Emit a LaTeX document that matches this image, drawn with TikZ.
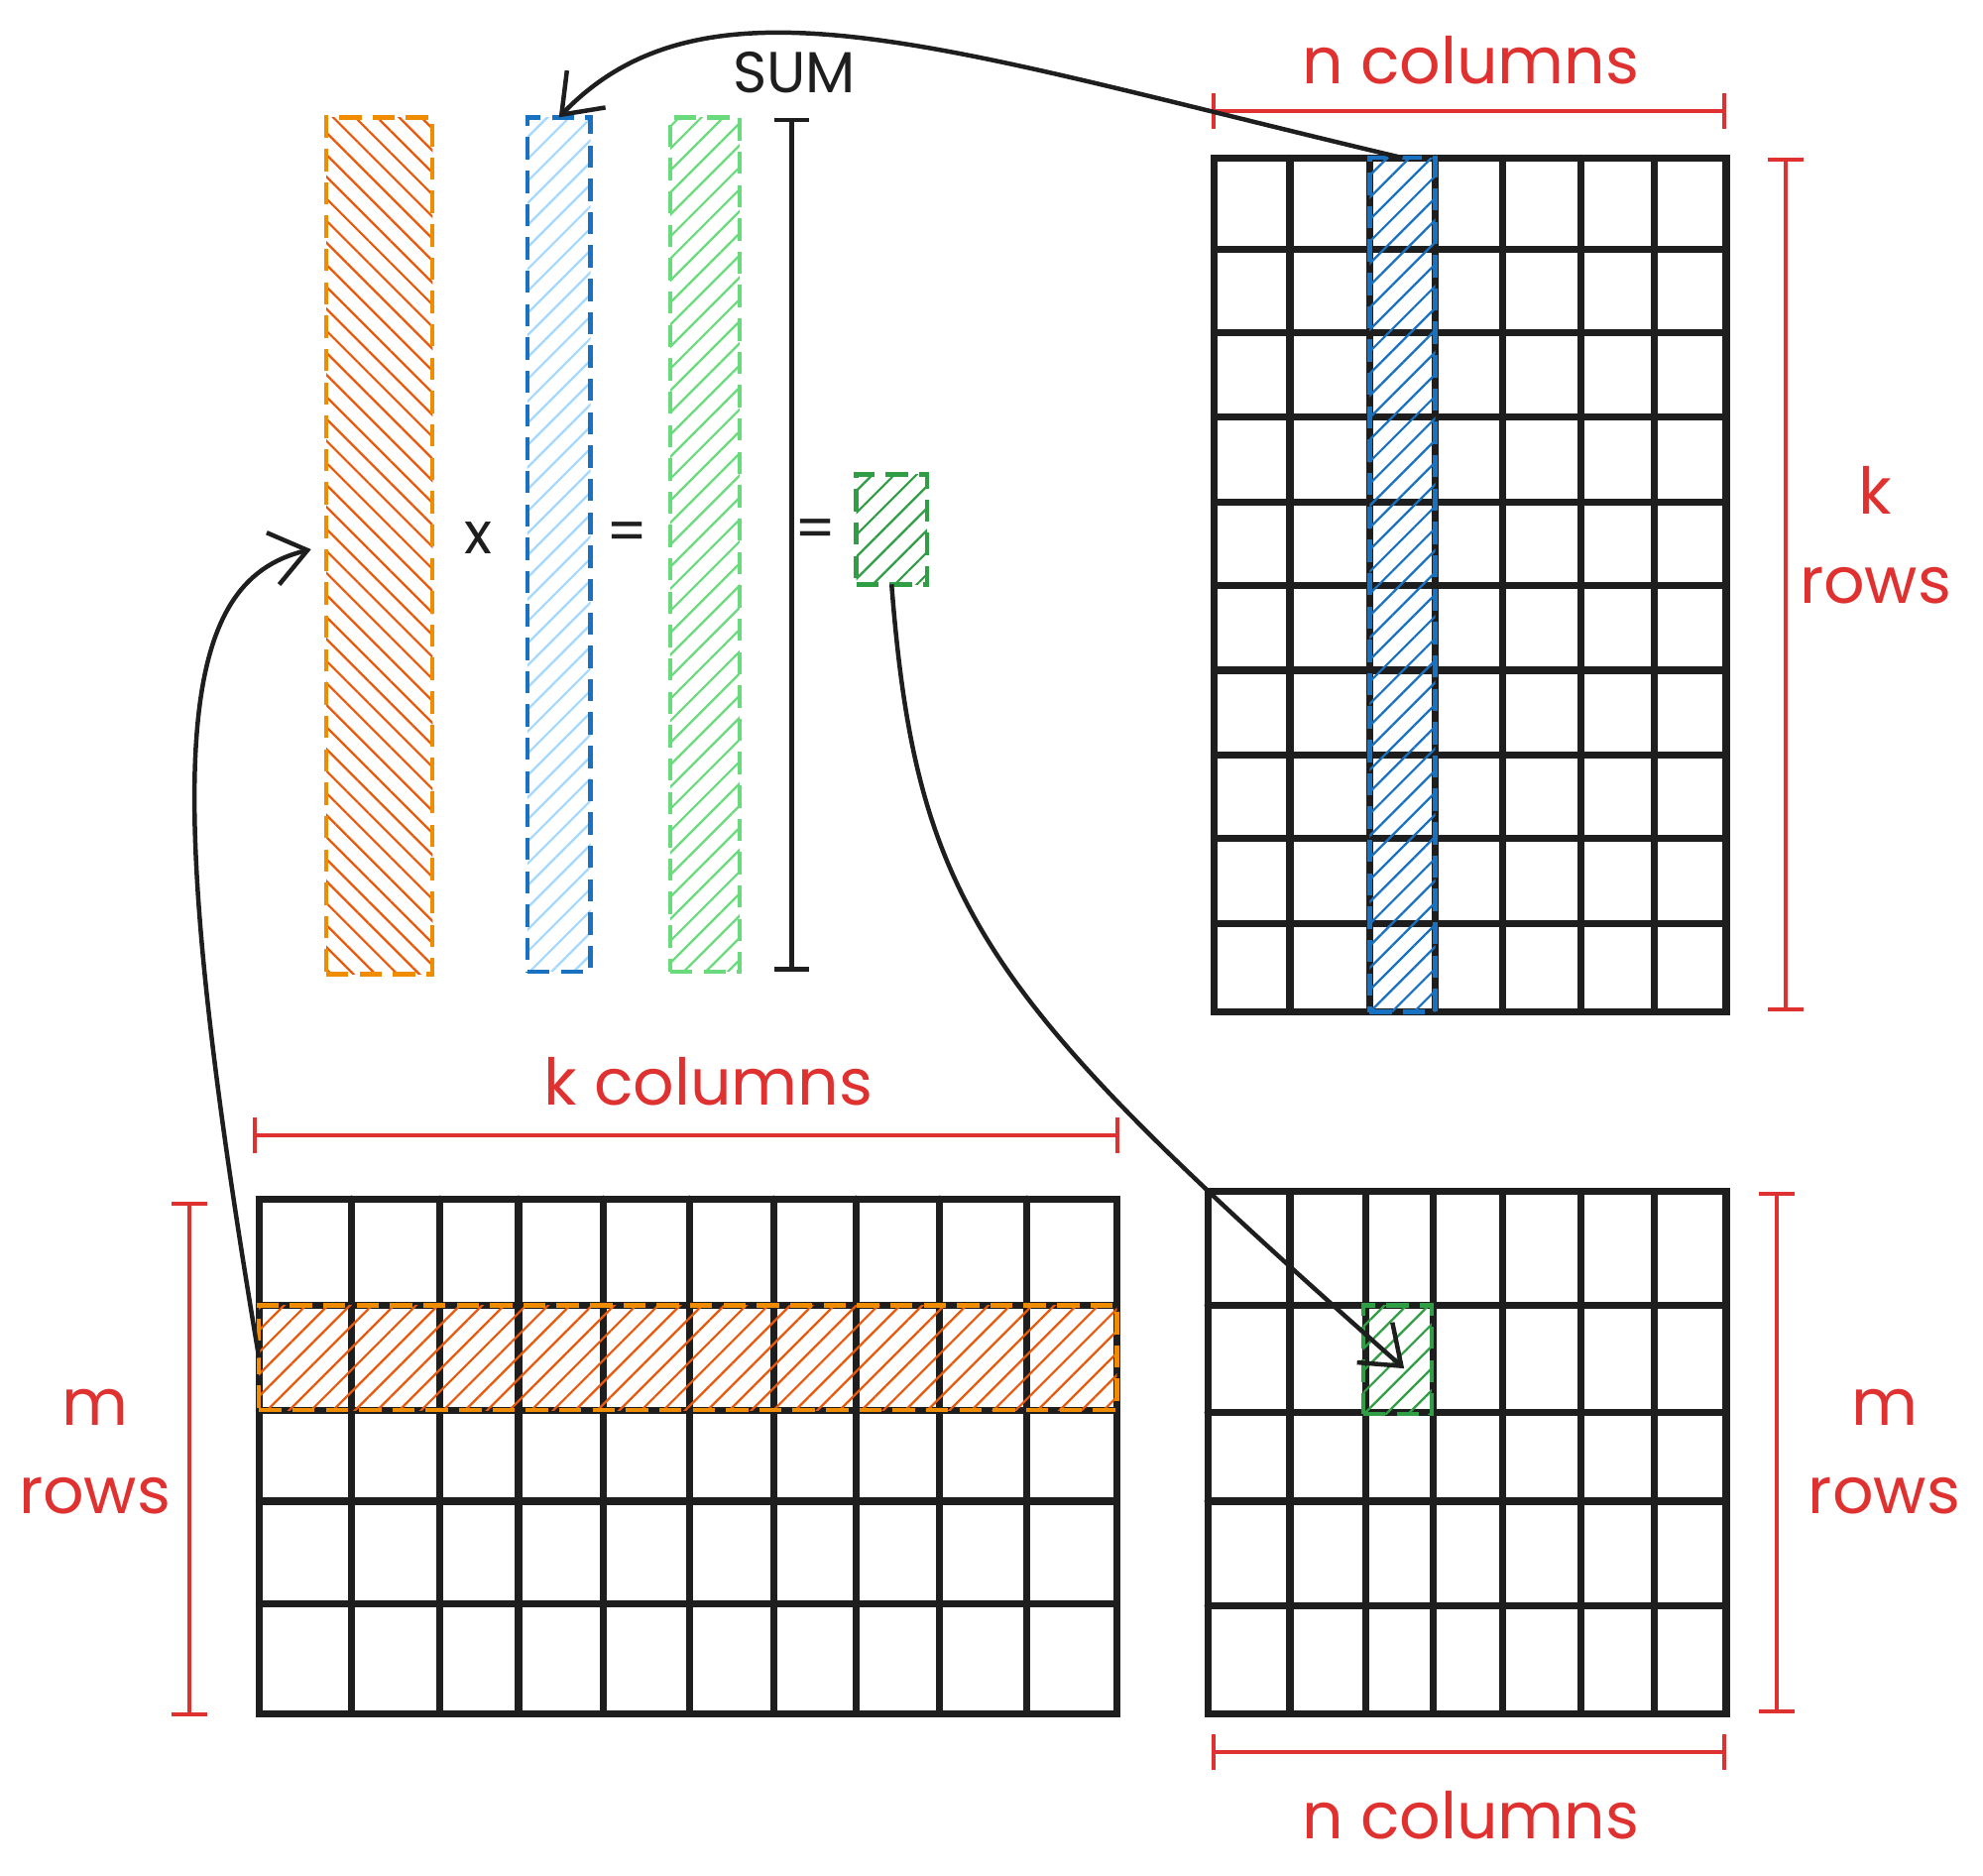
\documentclass[tikz,border=0pt]{standalone}
\usepackage{fontspec}
\setmainfont{Poppins}
\usetikzlibrary{arrows.meta, patterns.meta, positioning}
\definecolor{InkBlack}{HTML}{1E1E1E}
\definecolor{DimRed}{HTML}{E03131}
\definecolor{OrangeLine}{HTML}{F08C00}
\definecolor{OrangeHatch}{HTML}{E8590C}
\definecolor{BlueLine}{HTML}{1971C2}
\definecolor{BlueLight}{HTML}{A5D8FF}
\definecolor{GreenLight}{HTML}{69DB7C}
\definecolor{GreenDark}{HTML}{2F9E44}

\begin{document}
\begin{tikzpicture}[x=0.01cm, y=-0.01cm,
    grid/.style={draw=InkBlack, line width=1.6pt, line cap=round},
    hatchbox/.style n args={3}{draw=#1, line width=1pt, dash pattern=on 5pt off 2.5pt,
      pattern={Lines[angle=#3,distance=3.5pt,line width=0.5pt]}, pattern color=#2,
      inner sep=0pt, outer sep=0pt},
    dimline/.style={draw=DimRed, line width=0.9pt, {Bar[width=8pt]}-{Bar[width=8pt]}},
    dimlbl/.style={text=DimRed, font=\fontsize{14.5}{20}\selectfont, align=center, inner sep=0pt},
    sym/.style={text=InkBlack, font=\fontsize{13}{15}\selectfont, inner sep=0pt},
    arr/.style={draw=InkBlack, line width=1pt, -{Straight Barb[length=8pt,width=12pt,line width=1pt]}}
  ]
  \useasboundingbox (0,0) rectangle (1568,1483);

  % matrix A, m x k
  \draw[grid] (205,948) rectangle (883,1355);
  \foreach \x in {278,348,410,477,545,612,677,743,812} \draw[grid] (\x,948) -- (\x,1355);
  \foreach \y in {1032,1115,1187,1268} \draw[grid] (205,\y) -- (883,\y);

  % matrix B, k x n
  \draw[grid] (960,125) rectangle (1365,800);
  \foreach \x in {1020,1083,1135,1188,1250,1308} \draw[grid] (\x,125) -- (\x,800);
  \foreach \y in {197,263,330,397,463,530,597,663,730} \draw[grid] (960,\y) -- (1365,\y);

  % matrix C, m x n
  \draw[grid] (955,942) rectangle (1365,1355);
  \foreach \x in {1020,1080,1133,1188,1250,1308} \draw[grid] (\x,942) -- (\x,1355);
  \foreach \y in {1032,1117,1187,1270} \draw[grid] (955,\y) -- (1365,\y);

  % highlighted row, column, cell
  \node[hatchbox={OrangeLine}{OrangeHatch}{45}, minimum width=6.78cm, minimum height=0.83cm] (arow) at (544,1073.5) {};
  \node[hatchbox={BlueLine}{BlueLine}{45}, minimum width=0.52cm, minimum height=6.75cm] (bcol) at (1109,462.5) {};
  \node[hatchbox={GreenDark}{GreenDark}{45}, minimum width=0.54cm, minimum height=0.86cm] (ccell) at (1105,1075) {};

  % the dot product
  \node[hatchbox={OrangeLine}{OrangeHatch}{-45}, minimum width=0.84cm, minimum height=6.77cm] (avec) at (300,431.5) {};
  \node[hatchbox={BlueLine}{BlueLight}{45}, minimum width=0.50cm, minimum height=6.75cm] (bvec) at (442,430.5) {};
  \node[hatchbox={GreenLight}{GreenLight}{45}, minimum width=0.55cm, minimum height=6.75cm] (prodvec) at (557.5,430.5) {};
  \node[hatchbox={GreenDark}{GreenDark}{45}, minimum width=0.56cm, minimum height=0.87cm] (csum) at (705,418.5) {};
  \node[sym] (times) at (378,425) {x};
  \node[sym] (eqA) at (496,425) {=};
  \node[sym] (eqB) at (645,422) {=};
  \node[sym] (sumlbl) at (628,57) {SUM};
  \draw[draw=InkBlack, line width=1pt, {Bar[width=8pt]}-{Bar[width=8pt]}] (626,93) -- (626,768);

  % dimensions
  \node[dimlbl] (ncolTop) at (1163,48) {n columns};
  \node[dimlbl] (krows) at (1483,423) {k\\rows};
  \node[dimlbl] (kcols) at (560,855) {k columns};
  \node[dimlbl] (mrowsL) at (75,1148) {m\\rows};
  \node[dimlbl] (mrowsR) at (1490,1148) {m\\rows};
  \node[dimlbl] (ncolBot) at (1163,1435) {n columns};
  \draw[dimline] (958,88) -- (1365,88);
  \draw[dimline] (1412,125) -- (1412,800);
  \draw[dimline] (200,898) -- (885,898);
  \draw[dimline] (150,950) -- (150,1357);
  \draw[dimline] (1405,942) -- (1405,1355);
  \draw[dimline] (958,1385) -- (1365,1385);

  % arrows
  \draw[arr] (bcol.north) .. controls (750,40) and (560,-30) .. (bvec.north);
  \draw[arr, shorten >=3.5pt] (arow.west) .. controls (125,600) and (140,460) .. (avec.west);
  \draw[arr] (csum.south) .. controls (725,720) and (780,790) .. ([xshift=1.5pt,yshift=-2pt]ccell.center);
\end{tikzpicture}
\end{document}
